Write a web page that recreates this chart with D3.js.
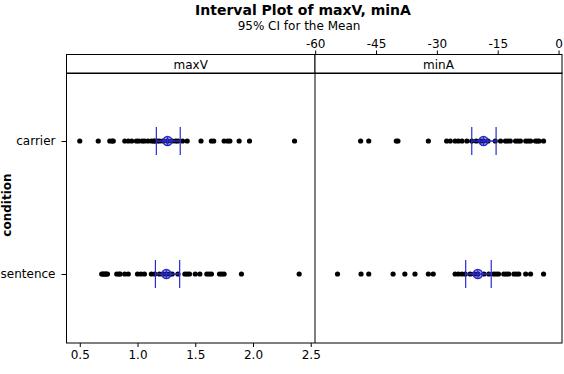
<!DOCTYPE html>
<html>
<head>
<meta charset="utf-8">
<script src="https://cdn.jsdelivr.net/npm/d3@7"></script>
<style>
  body { margin: 0; background: #fff; }
  text { font-family: "DejaVu Sans", Verdana, sans-serif; fill: #000; }
</style>
</head>
<body>
<div id="chart"></div>
<script>
// condition levels
const conditions = ["carrier", "sentence"];

// observations, maxV
const maxVCarrier = [0.50, 0.66, 0.76, 0.78, 0.79, 0.89, 0.92, 0.95, 0.99, 1.01, 1.04, 1.06,
  1.09, 1.12, 1.14, 1.15, 1.17, 1.19, 1.22, 1.26, 1.30, 1.33, 1.35, 1.39, 1.43, 1.55, 1.64,
  1.66, 1.75, 1.78, 1.80, 1.88, 1.97, 2.36];
const maxVSentence = [0.69, 0.70, 0.71, 0.72, 0.73, 0.74, 0.82, 0.84, 0.85, 0.89, 0.92, 1.00,
  1.03, 1.06, 1.12, 1.15, 1.19, 1.22, 1.25, 1.28, 1.30, 1.35, 1.41, 1.43, 1.45, 1.50, 1.54,
  1.60, 1.62, 1.64, 1.71, 1.73, 1.75, 1.90, 2.40];

// observations, minA
const minACarrier = [-48.8, -46.8, -40.0, -39.6, -32.1, -27.6, -26.7, -25.5, -24.7, -23.8,
  -22.6, -21.4, -20.3, -19.3, -18.5, -17.4, -15.6, -14.3, -13.1, -12.5, -11.9, -10.6, -10.0,
  -9.4, -8.1, -7.5, -6.9, -5.7, -5.2, -4.8, -3.7];
const minASentence = [-54.5, -48.7, -46.8, -40.8, -37.9, -35.4, -32.1, -30.9, -25.5, -24.7,
  -23.8, -23.0, -21.8, -20.8, -19.9, -18.4, -17.2, -16.0, -15.4, -14.8, -13.5, -12.9, -12.3,
  -11.0, -10.4, -9.8, -8.1, -6.9, -3.7];

// means and 95% CI (lower, upper)
const maxVMean = [1.26, 1.25];
const maxVCI = [[1.163, 1.37], [1.155, 1.365]];
const minAMean = [-18.5, -19.9];
const minACI = [[-21.4, -15.4], [-22.9, -16.6]];

const maxVTicks = [0.5, 1.0, 1.5, 2.0, 2.5];
const minATicks = [-60, -45, -30, -15, 0];

const W = 564, H = 374;
const plotTop = 73, plotBottom = 343;
const leftX0 = 66.5, midX = 315, rightX1 = 562;

const svg = d3.select("#chart").append("svg")
  .attr("width", W).attr("height", H);

const y = d3.scalePoint()
  .domain(conditions)
  .range([141, 274]);

const xL = d3.scaleLinear().domain([0.385, 2.537]).range([leftX0, midX]);
const xR = d3.scaleLinear().domain([-60.05, 0.85]).range([midX, rightX1]);

// titles
svg.append("text").attr("x", 303).attr("y", 15)
  .attr("text-anchor", "middle").attr("font-size", 14).attr("font-weight", "bold")
  .text("Interval Plot of maxV, minA");
svg.append("text").attr("x", 299).attr("y", 30)
  .attr("text-anchor", "middle").attr("font-size", 12)
  .text("95% CI for the Mean");

// strips
const strips = [["maxV", leftX0, midX], ["minA", midX, rightX1]];
strips.forEach(([label, a, b]) => {
  svg.append("rect").attr("x", a).attr("y", 54.5).attr("width", b - a).attr("height", 19)
    .attr("fill", "#fff").attr("stroke", "#000");
  svg.append("text").attr("x", (a + b) / 2).attr("y", 68.5)
    .attr("text-anchor", "middle").attr("font-size", 12).text(label);
});

// panel frames
svg.append("rect").attr("x", leftX0).attr("y", plotTop).attr("width", rightX1 - leftX0)
  .attr("height", plotBottom - plotTop).attr("fill", "none").attr("stroke", "#000");
svg.append("line").attr("x1", midX).attr("x2", midX).attr("y1", plotTop).attr("y2", plotBottom)
  .attr("stroke", "#000");

// axes
const axL = svg.append("g").attr("transform", `translate(0,${plotBottom})`)
  .call(d3.axisBottom(xL).tickValues(maxVTicks).tickFormat(d3.format(".1f")).tickSize(4));
const axR = svg.append("g").attr("transform", `translate(0,54.5)`)
  .call(d3.axisTop(xR).tickValues(minATicks).tickFormat(d => d === 0 ? "0" : d).tickSize(4));
const axY = svg.append("g").attr("transform", `translate(${leftX0},0)`)
  .call(d3.axisLeft(y).tickSize(5).tickPadding(6));
[axL, axR, axY].forEach(g => {
  g.select(".domain").remove();
  g.selectAll("text").attr("font-size", 12).attr("font-family", "DejaVu Sans, sans-serif");
});

svg.append("text")
  .attr("transform", "translate(11,205) rotate(-90)")
  .attr("text-anchor", "middle").attr("font-size", 12).attr("font-weight", "bold")
  .text("condition");

// points
const panels = [
  {x: xL, data: [maxVCarrier, maxVSentence], mean: maxVMean, ci: maxVCI},
  {x: xR, data: [minACarrier, minASentence], mean: minAMean, ci: minACI}
];
const blue = "#2a2ad0";

panels.forEach(p => {
  p.data.forEach((vals, i) => {
    const cy = y(conditions[i]);
    svg.append("g").selectAll("circle").data(vals).join("circle")
      .attr("cx", d => p.x(d)).attr("cy", cy).attr("r", 2.6).attr("fill", "#000");

    const g = svg.append("g").attr("stroke", blue);
    g.append("line").attr("x1", p.x(p.ci[i][0])).attr("x2", p.x(p.ci[i][1]))
      .attr("y1", cy).attr("y2", cy).attr("stroke-width", 1.5);
    p.ci[i].forEach(v => {
      g.append("line").attr("x1", p.x(v)).attr("x2", p.x(v))
        .attr("y1", cy - 14).attr("y2", cy + 14).attr("stroke-width", 1.2);
    });
    const mx = p.x(p.mean[i]);
    g.append("circle").attr("cx", mx).attr("cy", cy).attr("r", 4.5)
      .attr("fill", "rgba(42,42,208,0.45)").attr("stroke-width", 1.5);
    g.append("line").attr("x1", mx).attr("x2", mx).attr("y1", cy - 4.5).attr("y2", cy + 4.5)
      .attr("stroke-width", 1);
  });
});
</script>
</body>
</html>
